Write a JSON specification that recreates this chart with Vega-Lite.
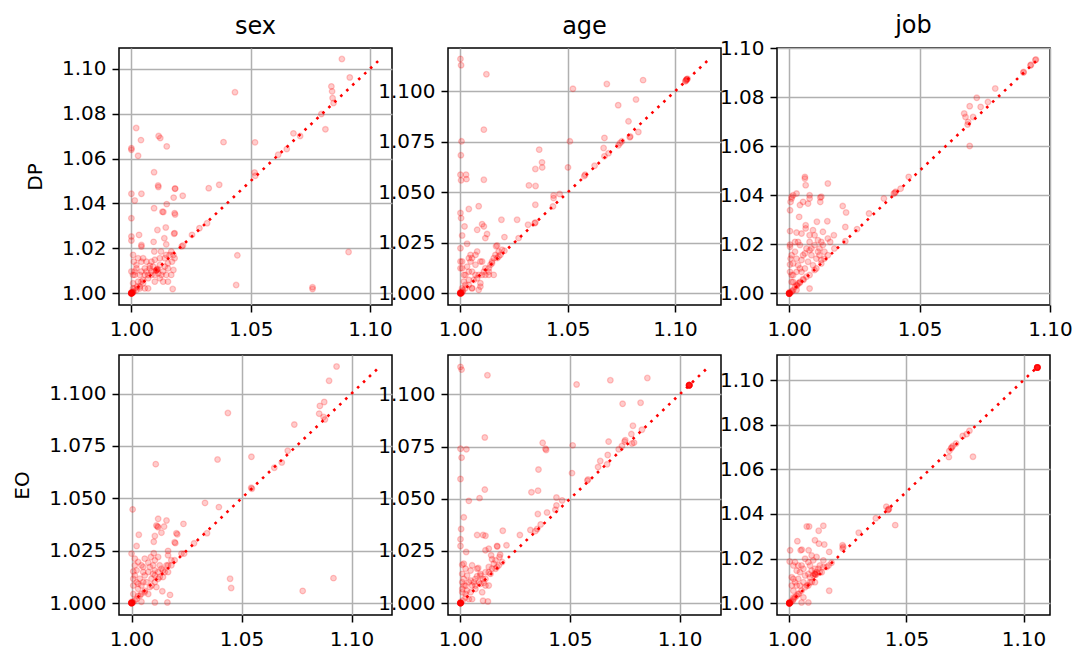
{
"$schema": "https://vega.github.io/schema/vega-lite/v6.json",
"padding": {"left": 11, "top": 13, "right": 5, "bottom": 5},
"background": "white",
"config": {
 "font": "DejaVu Sans",
 "view": {"stroke": "#000", "strokeWidth": 1.5},
 "axis": {"grid": true, "gridColor": "#b0b0b0", "gridWidth": 1.5, "domain": false, "ticks": true, "tickColor": "#000", "tickWidth": 1.5, "tickSize": 7, "labelFont": "DejaVu Sans", "labelFontSize": 20, "labelColor": "#000", "titleFont": "DejaVu Sans", "titleFontSize": 20, "titleFontWeight": "normal", "titleColor": "#000", "titlePadding": 16, "labelFlush": false, "labelOverlap": false, "zindex": 1},
 "axisX": {"labelPadding": 7},
 "axisY": {"labelPadding": 6},
 "title": {"fontSize": 24, "fontWeight": "normal", "font": "DejaVu Sans", "color": "#000", "baseline": "alphabetic", "offset": 9},
 "circle": {"color": "#ff0000", "fill": "#ff0000", "stroke": "#ff0000", "fillOpacity": 0.2, "strokeOpacity": 0.2, "strokeWidth": 1.3, "opacity": 1, "size": 32},
 "line": {"color": "#ff0000", "strokeDash": [2.6, 5.6], "strokeWidth": 2.6, "strokeCap": "butt"}
},
"datasets": {
 "p1": [
  {"x":1.0882,"y":1.1043},{"x":1.0915,"y":1.0961},{"x":1.0838,"y":1.0921},{"x":1.0841,"y":1.0899},{"x":1.0843,"y":1.0869},{"x":1.0847,"y":1.0847},{"x":1.0813,"y":1.0730},{"x":1.0796,"y":1.0798},{"x":1.0679,"y":1.0712},{"x":1.0707,"y":1.0700},{"x":1.0615,"y":1.0617},{"x":1.0651,"y":1.0642},{"x":1.0518,"y":1.0672},{"x":1.0516,"y":1.0538},{"x":1.0519,"y":1.0523},{"x":1.0434,"y":1.0895},{"x":1.0386,"y":1.0673},{"x":1.0368,"y":1.0483},{"x":1.0324,"y":1.0468},{"x":1.0317,"y":1.0312},{"x":1.0285,"y":1.0290},{"x":1.0254,"y":1.0260},{"x":1.0216,"y":1.0213},{"x":1.0211,"y":1.0209},{"x":1.0444,"y":1.0169},{"x":1.0439,"y":1.0037},{"x":1.0759,"y":1.0027},{"x":1.0759,"y":1.0019},{"x":1.0910,"y":1.0184},
  {"x":1.0020,"y":1.0736},{"x":1.0040,"y":1.0682},{"x":1.0,"y":1.0646},{"x":1.0,"y":1.0639},{"x":1.0028,"y":1.0612},{"x":1.0114,"y":1.0700},{"x":1.0121,"y":1.0691},{"x":1.0148,"y":1.0654},{"x":1.0095,"y":1.0539},{"x":1.0112,"y":1.0480},{"x":1.0113,"y":1.0473},{"x":1.0183,"y":1.0467},{"x":1.0183,"y":1.0465},{"x":1.0215,"y":1.0434},{"x":1.0177,"y":1.0426},{"x":1.0,"y":1.0443},{"x":1.0042,"y":1.0443},{"x":1.0014,"y":1.0413},{"x":1.0095,"y":1.0379},{"x":1.0148,"y":1.0397},{"x":1.0130,"y":1.0363},{"x":1.0134,"y":1.0362},{"x":1.0181,"y":1.0357},{"x":1.0183,"y":1.0351},{"x":1.0,"y":1.0334},{"x":1.0144,"y":1.0293},{"x":1.0109,"y":1.0282},{"x":1.0179,"y":1.0265},{"x":1.0181,"y":1.0268},{"x":1.0032,"y":1.0260},{"x":1.0,"y":1.0253},{"x":1.0,"y":1.0235},{"x":1.0093,"y":1.0229},{"x":1.0138,"y":1.0245},{"x":1.0146,"y":1.0218},{"x":1.0042,"y":1.0215},{"x":1.0042,"y":1.0208},{"x":1.0096,"y":1.0186},{"x":1.0124,"y":1.0186},{"x":1.0167,"y":1.0186},{"x":1.0176,"y":1.0171},{"x":1.0173,"y":1.0019},
  {"x":1.0010,"y":1.0141},{"x":1.0042,"y":1.0141},{"x":1.0056,"y":1.0111},{"x":1.0070,"y":1.0082},{"x":1.0014,"y":1.0082},{"x":1.0028,"y":1.0052},{"x":1.0049,"y":1.0059},{"x":1.0084,"y":1.0097},{"x":1.0126,"y":1.0082},{"x":1.0153,"y":1.0111},{"x":1.0167,"y":1.0082},{"x":1.0176,"y":1.0104},{"x":1.0014,"y":1.0022},{"x":1.0035,"y":1.0022},{"x":1.0070,"y":1.0022},
  {"x":1.0160,"y":1.0171},{"x":1.0140,"y":1.0156},{"x":1.0119,"y":1.0126},{"x":1.0105,"y":1.0104},{"x":1.0108,"y":1.0106},{"x":1.0102,"y":1.0101},{"x":1.0110,"y":1.0108},{"x":1.0106,"y":1.0102},{"x":1.0084,"y":1.0082},{"x":1.0070,"y":1.0067},{"x":1.0049,"y":1.0045},{"x":1.0035,"y":1.0030},{"x":1.0021,"y":1.0015},{"x":1.0007,"y":1.0007},
  {"x":1.0,"y":1.0},{"x":1.0,"y":1.0},{"x":1.0,"y":1.0},{"x":1.0,"y":1.0},{"x":1.0,"y":1.0},{"x":1.0,"y":1.0},{"x":1.0,"y":1.0},{"x":1.0,"y":1.0},{"x":1.0003,"y":1.0002},{"x":1.0005,"y":1.0004},{"x":1.0,"y":1.0005},{"x":1.0002,"y":1.0},{"x":1.0008,"y":1.0006},
  {"x":1.0007,"y":1.0171},{"x":1.0028,"y":1.0156},{"x":1.0049,"y":1.0156},{"x":1.0,"y":1.0097},{"x":1.0021,"y":1.0111},{"x":1.0042,"y":1.0097},{"x":1.0063,"y":1.0141},{"x":1.0077,"y":1.0123},{"x":1.0098,"y":1.0149},{"x":1.0133,"y":1.0052},{"x":1.0153,"y":1.0052},{"x":1.0146,"y":1.0082},
  {"x":1.0007,"y":1.0082},{"x":1.0014,"y":1.0097},{"x":1.0021,"y":1.0126},{"x":1.0035,"y":1.0082},{"x":1.0042,"y":1.0052},{"x":1.0056,"y":1.0082},{"x":1.0063,"y":1.0097},{"x":1.0077,"y":1.0111},{"x":1.0091,"y":1.0119},{"x":1.0098,"y":1.0082},{"x":1.0112,"y":1.0089},{"x":1.0133,"y":1.0097},{"x":1.0140,"y":1.0119},{"x":1.0153,"y":1.0134},{"x":1.0170,"y":1.0141},{"x":1.0181,"y":1.0156},{"x":1.0119,"y":1.0156},{"x":1.0084,"y":1.0141},{"x":1.0007,"y":1.0045},{"x":1.0025,"y":1.0030},{"x":1.0098,"y":1.0052},{"x":1.0119,"y":1.0067},{"x":1.0056,"y":1.0022},{"x":1.0007,"y":1.0022},{"x":1.0146,"y":1.0171}
 ],
 "p2": [
  {"x":1.0,"y":1.1160},{"x":1.0003,"y":1.1129},{"x":1.0121,"y":1.1084},{"x":1.0109,"y":1.0810},{"x":1.0005,"y":1.0752},{"x":1.0002,"y":1.0683},{"x":1.0,"y":1.0587},{"x":1.0003,"y":1.0559},{"x":1.0026,"y":1.0587},{"x":1.0028,"y":1.0565},{"x":1.0109,"y":1.0562},{"x":1.0367,"y":1.0711},{"x":1.0380,"y":1.0648},{"x":1.0381,"y":1.0623},{"x":1.0349,"y":1.0615},{"x":1.0319,"y":1.0534},{"x":1.0350,"y":1.0531},{"x":1.0501,"y":1.0623},{"x":1.0510,"y":1.0752},{"x":1.0524,"y":1.1012},{"x":1.0682,"y":1.1036},{"x":1.0735,"y":1.0931},{"x":1.0818,"y":1.0959},{"x":1.0851,"y":1.1055},{"x":1.0783,"y":1.0851},{"x":1.0829,"y":1.0798},{"x":1.0789,"y":1.0772},{"x":1.0791,"y":1.0776},{"x":1.0752,"y":1.0752},{"x":1.0744,"y":1.0744},{"x":1.0736,"y":1.0732},{"x":1.0671,"y":1.0769},{"x":1.0667,"y":1.0719},{"x":1.0690,"y":1.0693},{"x":1.0671,"y":1.0678},{"x":1.0625,"y":1.0631},{"x":1.0581,"y":1.0587},{"x":1.0577,"y":1.0580},{"x":1.0462,"y":1.0491},{"x":1.0434,"y":1.0484},{"x":1.0434,"y":1.0471},{"x":1.0431,"y":1.0430},{"x":1.0349,"y":1.0438},{"x":1.0349,"y":1.0350},{"x":1.0346,"y":1.0347},{"x":1.0315,"y":1.0339},{"x":1.0264,"y":1.0364},{"x":1.0191,"y":1.0364},{"x":1.0039,"y":1.0417},{"x":1.0085,"y":1.0431},{"x":1.0,"y":1.0397},{"x":1.0003,"y":1.0372},{"x":1.0019,"y":1.0331},{"x":1.0008,"y":1.0286},{"x":1.0078,"y":1.0314},{"x":1.0101,"y":1.0342},{"x":1.0109,"y":1.0331},{"x":1.0124,"y":1.0293},{"x":1.0116,"y":1.0273},{"x":1.0205,"y":1.0278},{"x":1.0171,"y":1.0236},{"x":1.0166,"y":1.0233},{"x":1.0031,"y":1.0245},{"x":1.0,"y":1.0223},{"x":1.0,"y":1.0124},{"x":1.0,"y":1.0157},{"x":1.0205,"y":1.0210},{"x":1.0271,"y":1.0273},
  {"x":1.0054,"y":1.0174},{"x":1.0047,"y":1.0190},{"x":1.0070,"y":1.0141},{"x":1.0093,"y":1.0157},{"x":1.0116,"y":1.0124},{"x":1.0132,"y":1.0091},{"x":1.0101,"y":1.0091},{"x":1.0147,"y":1.0157},{"x":1.0163,"y":1.0190},{"x":1.0155,"y":1.0174},{"x":1.0178,"y":1.0207},{"x":1.0093,"y":1.0050},{"x":1.0023,"y":1.0091},{"x":1.0016,"y":1.0058},{"x":1.0039,"y":1.0107},{"x":1.0008,"y":1.0124},{"x":1.0054,"y":1.0025},{"x":1.0085,"y":1.0017},{"x":1.0047,"y":1.0157},{"x":1.0078,"y":1.0207},
  {"x":1.0039,"y":1.0041},{"x":1.0062,"y":1.0066},{"x":1.0085,"y":1.0091},{"x":1.0109,"y":1.0107},{"x":1.0132,"y":1.0124},{"x":1.0147,"y":1.0149},{"x":1.0171,"y":1.0174},{"x":1.0186,"y":1.0190},{"x":1.0023,"y":1.0025},
  {"x":1.0,"y":1.0},{"x":1.0,"y":1.0},{"x":1.0,"y":1.0},{"x":1.0,"y":1.0},{"x":1.0,"y":1.0},{"x":1.0,"y":1.0},{"x":1.0,"y":1.0},{"x":1.0,"y":1.0},{"x":1.0003,"y":1.0002},{"x":1.0006,"y":1.0003},{"x":1.0,"y":1.0006},{"x":1.0004,"y":1.0},{"x":1.0010,"y":1.0008},{"x":1.0012,"y":1.0015},
  {"x":1.1050,"y":1.1052},{"x":1.1054,"y":1.1058},{"x":1.1058,"y":1.1062},{"x":1.1052,"y":1.1056},{"x":1.1056,"y":1.1060},{"x":1.1048,"y":1.1049},
  {"x":1.0016,"y":1.0091},{"x":1.0008,"y":1.0157},{"x":1.0031,"y":1.0132},{"x":1.0054,"y":1.0107},{"x":1.0070,"y":1.0091},{"x":1.0078,"y":1.0074},{"x":1.0039,"y":1.0066},{"x":1.0023,"y":1.0041},{"x":1.0116,"y":1.0091},{"x":1.0132,"y":1.0107},{"x":1.0140,"y":1.0141},{"x":1.0101,"y":1.0157},{"x":1.0070,"y":1.0190},{"x":1.0039,"y":1.0174},{"x":1.0054,"y":1.0025},{"x":1.0008,"y":1.0025},{"x":1.0093,"y":1.0033},{"x":1.0155,"y":1.0091},{"x":1.0178,"y":1.0182},{"x":1.0194,"y":1.0215}
 ],
 "p3": [
  {"x":1.0946,"y":1.0953},{"x":1.0944,"y":1.0951},{"x":1.0927,"y":1.0932},{"x":1.0925,"y":1.0929},{"x":1.0899,"y":1.0902},{"x":1.0898,"y":1.0900},{"x":1.0790,"y":1.0835},{"x":1.0719,"y":1.0797},{"x":1.0692,"y":1.0763},{"x":1.0671,"y":1.0733},{"x":1.0676,"y":1.0719},{"x":1.0705,"y":1.0719},{"x":1.0686,"y":1.0699},{"x":1.0684,"y":1.0688},{"x":1.0734,"y":1.0760},{"x":1.0762,"y":1.0780},{"x":1.0692,"y":1.0601},{"x":1.0458,"y":1.0475},{"x":1.0427,"y":1.0427},{"x":1.0408,"y":1.0414},{"x":1.0401,"y":1.0407},{"x":1.0405,"y":1.0410},{"x":1.0363,"y":1.0387},{"x":1.0306,"y":1.0326},{"x":1.0260,"y":1.0262},{"x":1.0205,"y":1.0356},{"x":1.0218,"y":1.0330},{"x":1.0215,"y":1.0271},{"x":1.0215,"y":1.0213},{"x":1.0171,"y":1.0237},{"x":1.0148,"y":1.0448},{"x":1.0146,"y":1.0294},{"x":1.0123,"y":1.0394},{"x":1.0119,"y":1.0391},{"x":1.0119,"y":1.0373},{"x":1.0106,"y":1.0292},{"x":1.0078,"y":1.0400},{"x":1.0078,"y":1.0387},{"x":1.0060,"y":1.0475},{"x":1.0060,"y":1.0468},{"x":1.0063,"y":1.0441},{"x":1.0072,"y":1.0366},{"x":1.0038,"y":1.0312},{"x":1.0009,"y":1.0394},{"x":1.0009,"y":1.0387},{"x":1.0005,"y":1.0373},{"x":1.0003,"y":1.0339},{"x":1.0028,"y":1.0407},{"x":1.0041,"y":1.0360},{"x":1.0028,"y":1.0248},{"x":1.0003,"y":1.0254},{"x":1.0003,"y":1.0199},{"x":1.0003,"y":1.0190},{"x":1.0015,"y":1.0400},{"x":1.0053,"y":1.0373},{"x":1.0022,"y":1.0210},
  {"x":1.0063,"y":1.0278},{"x":1.0063,"y":1.0265},{"x":1.0078,"y":1.0237},{"x":1.0078,"y":1.0210},{"x":1.0085,"y":1.0183},{"x":1.0097,"y":1.0237},{"x":1.0110,"y":1.0217},{"x":1.0123,"y":1.0210},{"x":1.0116,"y":1.0183},{"x":1.0104,"y":1.0142},{"x":1.0123,"y":1.0136},{"x":1.0116,"y":1.0156},{"x":1.0085,"y":1.0156},{"x":1.0060,"y":1.0163},{"x":1.0053,"y":1.0156},{"x":1.0028,"y":1.0142},{"x":1.0047,"y":1.0136},{"x":1.0015,"y":1.0122},{"x":1.0003,"y":1.0118},{"x":1.0003,"y":1.0088},{"x":1.0015,"y":1.0075},{"x":1.0041,"y":1.0102},{"x":1.0078,"y":1.0020},{"x":1.0009,"y":1.0156},{"x":1.0041,"y":1.0197},{"x":1.0129,"y":1.0251},{"x":1.0148,"y":1.0224},{"x":1.0157,"y":1.0210},
  {"x":1.0028,"y":1.0034},{"x":1.0066,"y":1.0068},{"x":1.0053,"y":1.0058},{"x":1.0041,"y":1.0047},{"x":1.0015,"y":1.0014},{"x":1.0078,"y":1.0075},{"x":1.0097,"y":1.0095},{"x":1.0123,"y":1.0122},{"x":1.0135,"y":1.0142},{"x":1.0148,"y":1.0156},{"x":1.0173,"y":1.0183},{"x":1.0034,"y":1.0041},{"x":1.0022,"y":1.0027},{"x":1.0040,"y":1.0043},{"x":1.0055,"y":1.0056},{"x":1.0030,"y":1.0032},
  {"x":1.0,"y":1.0},{"x":1.0,"y":1.0},{"x":1.0,"y":1.0},{"x":1.0,"y":1.0},{"x":1.0,"y":1.0},{"x":1.0,"y":1.0},{"x":1.0,"y":1.0},{"x":1.0,"y":1.0},{"x":1.0004,"y":1.0003},{"x":1.0008,"y":1.0007},{"x":1.0,"y":1.0005},{"x":1.0012,"y":1.0010},
  {"x":1.0009,"y":1.0075},{"x":1.0015,"y":1.0047},{"x":1.0028,"y":1.0088},{"x":1.0034,"y":1.0115},{"x":1.0047,"y":1.0088},{"x":1.0060,"y":1.0102},{"x":1.0072,"y":1.0129},{"x":1.0091,"y":1.0115},{"x":1.0066,"y":1.0183},{"x":1.0078,"y":1.0176},{"x":1.0097,"y":1.0197},{"x":1.0110,"y":1.0170},{"x":1.0129,"y":1.0197},{"x":1.0135,"y":1.0170},{"x":1.0104,"y":1.0102},{"x":1.0034,"y":1.0210},{"x":1.0047,"y":1.0244},{"x":1.0091,"y":1.0258},{"x":1.0005,"y":1.0142},{"x":1.0022,"y":1.0170},{"x":1.0009,"y":1.0047},{"x":1.0028,"y":1.0014}
 ],
 "p4": [
  {"x":1.0932,"y":1.1129},{"x":1.0898,"y":1.1061},{"x":1.0876,"y":1.0960},{"x":1.0856,"y":1.0941},{"x":1.0853,"y":1.0904},{"x":1.0873,"y":1.0888},{"x":1.0879,"y":1.0876},{"x":1.0740,"y":1.0852},{"x":1.0710,"y":1.0727},{"x":1.0683,"y":1.0671},{"x":1.0649,"y":1.0646},{"x":1.0545,"y":1.0698},{"x":1.0544,"y":1.0550},{"x":1.0547,"y":1.0546},{"x":1.0391,"y":1.0685},{"x":1.0438,"y":1.0907},{"x":1.0397,"y":1.0458},{"x":1.0334,"y":1.0478},{"x":1.0343,"y":1.0333},{"x":1.0284,"y":1.0285},{"x":1.0110,"y":1.0663},{"x":1.0005,"y":1.0447},{"x":1.0121,"y":1.0402},{"x":1.0159,"y":1.0394},{"x":1.0113,"y":1.0370},{"x":1.0121,"y":1.0362},{"x":1.0118,"y":1.0366},{"x":1.0136,"y":1.0336},{"x":1.0148,"y":1.0365},{"x":1.0236,"y":1.0378},{"x":1.0204,"y":1.0333},{"x":1.0208,"y":1.0328},{"x":1.0033,"y":1.0326},{"x":1.0023,"y":1.0272},{"x":1.0106,"y":1.0320},{"x":1.0101,"y":1.0293},{"x":1.0196,"y":1.0290},{"x":1.0199,"y":1.0286},{"x":1.0239,"y":1.0236},{"x":1.0227,"y":1.0236},{"x":1.0,"y":1.0236},{"x":1.0101,"y":1.0238},{"x":1.0088,"y":1.0220},{"x":1.0121,"y":1.0220},{"x":1.0166,"y":1.0249},{"x":1.0166,"y":1.0228},{"x":1.0448,"y":1.0116},{"x":1.0453,"y":1.0072},{"x":1.0778,"y":1.0058},{"x":1.0918,"y":1.0119},{"x":1.0140,"y":1.0056},{"x":1.0175,"y":1.0039},{"x":1.0106,"y":1.0003},{"x":1.0163,"y":1.0003},{"x":1.0045,"y":1.0006},
  {"x":1.0030,"y":1.0196},{"x":1.0076,"y":1.0193},{"x":1.0015,"y":1.0180},{"x":1.0008,"y":1.0151},{"x":1.0008,"y":1.0084},{"x":1.0023,"y":1.0100},{"x":1.0038,"y":1.0116},{"x":1.0053,"y":1.0100},{"x":1.0076,"y":1.0148},{"x":1.0106,"y":1.0156},{"x":1.0030,"y":1.0068},{"x":1.0060,"y":1.0051},{"x":1.0091,"y":1.0084},{"x":1.0121,"y":1.0116},{"x":1.0143,"y":1.0124},{"x":1.0166,"y":1.0148},{"x":1.0098,"y":1.0140},{"x":1.0053,"y":1.0148},{"x":1.0023,"y":1.0156},{"x":1.0136,"y":1.0164},{"x":1.0098,"y":1.0180},{"x":1.0159,"y":1.0180},{"x":1.0053,"y":1.0172},
  {"x":1.0181,"y":1.0180},{"x":1.0151,"y":1.0148},{"x":1.0128,"y":1.0124},{"x":1.0106,"y":1.0100},{"x":1.0083,"y":1.0076},{"x":1.0060,"y":1.0059},{"x":1.0038,"y":1.0035},{"x":1.0023,"y":1.0019},{"x":1.0196,"y":1.0204},{"x":1.0045,"y":1.0044},{"x":1.0015,"y":1.0012},
  {"x":1.0,"y":1.0},{"x":1.0,"y":1.0},{"x":1.0,"y":1.0},{"x":1.0,"y":1.0},{"x":1.0,"y":1.0},{"x":1.0,"y":1.0},{"x":1.0,"y":1.0},{"x":1.0,"y":1.0},{"x":1.0003,"y":1.0002},{"x":1.0006,"y":1.0004},{"x":1.0,"y":1.0006},{"x":1.0004,"y":1.0},
  {"x":1.0008,"y":1.0116},{"x":1.0015,"y":1.0132},{"x":1.0030,"y":1.0092},{"x":1.0045,"y":1.0084},{"x":1.0068,"y":1.0100},{"x":1.0060,"y":1.0132},{"x":1.0091,"y":1.0116},{"x":1.0106,"y":1.0132},{"x":1.0121,"y":1.0148},{"x":1.0143,"y":1.0156},{"x":1.0128,"y":1.0180},{"x":1.0083,"y":1.0172},{"x":1.0045,"y":1.0180},{"x":1.0015,"y":1.0212},{"x":1.0060,"y":1.0212},{"x":1.0106,"y":1.0204},{"x":1.0008,"y":1.0043},{"x":1.0030,"y":1.0035},{"x":1.0076,"y":1.0043},{"x":1.0113,"y":1.0076},{"x":1.0166,"y":1.0180},{"x":1.0181,"y":1.0204}
 ],
 "p5": [
  {"x":1.0,"y":1.1132},{"x":1.0005,"y":1.1119},{"x":1.0123,"y":1.1092},{"x":1.0530,"y":1.1048},{"x":1.0684,"y":1.1068},{"x":1.0853,"y":1.1079},{"x":1.0740,"y":1.0955},{"x":1.0822,"y":1.0960},{"x":1.0787,"y":1.0850},{"x":1.0828,"y":1.0831},{"x":1.0780,"y":1.0810},{"x":1.0752,"y":1.0781},{"x":1.0749,"y":1.0774},{"x":1.0737,"y":1.0753},{"x":1.0792,"y":1.0769},{"x":1.0783,"y":1.0765},{"x":1.0676,"y":1.0774},{"x":1.0722,"y":1.0737},{"x":1.0672,"y":1.0710},{"x":1.0669,"y":1.0665},{"x":1.0628,"y":1.0652},{"x":1.0638,"y":1.0681},{"x":1.0582,"y":1.0592},{"x":1.0579,"y":1.0587},{"x":1.0512,"y":1.0756},{"x":1.0509,"y":1.0623},{"x":1.0375,"y":1.0768},{"x":1.0388,"y":1.0740},{"x":1.0391,"y":1.0734},{"x":1.0356,"y":1.0640},{"x":1.0354,"y":1.0539},{"x":1.0324,"y":1.0531},{"x":1.0438,"y":1.0506},{"x":1.0464,"y":1.0492},{"x":1.0438,"y":1.0468},{"x":1.0433,"y":1.0447},{"x":1.0395,"y":1.0434},{"x":1.0353,"y":1.0427},{"x":1.0350,"y":1.0355},{"x":1.0342,"y":1.0345},{"x":1.0366,"y":1.0377},{"x":1.0319,"y":1.0350},{"x":1.0271,"y":1.0326},{"x":1.0193,"y":1.0347},{"x":1.0210,"y":1.0277},{"x":1.0111,"y":1.0794},{"x":1.0,"y":1.0740},{"x":1.0027,"y":1.0737},{"x":1.0005,"y":1.0697},{"x":1.0,"y":1.0595},{"x":1.0111,"y":1.0544},{"x":1.0087,"y":1.0503},{"x":1.0038,"y":1.0490},{"x":1.0015,"y":1.0411},{"x":1.0003,"y":1.0355},{"x":1.0,"y":1.0306},{"x":1.0,"y":1.0274},{"x":1.0026,"y":1.0245},{"x":1.0076,"y":1.0326},{"x":1.0103,"y":1.0326},{"x":1.0114,"y":1.0323},{"x":1.0114,"y":1.0253},{"x":1.0129,"y":1.0261},{"x":1.0167,"y":1.0274},{"x":1.0168,"y":1.0271},{"x":1.0140,"y":1.0229},{"x":1.0144,"y":1.0210},{"x":1.0181,"y":1.0232},{"x":1.0008,"y":1.0184},{"x":1.0015,"y":1.0189},{"x":1.0103,"y":1.0011},{"x":1.0125,"y":1.0008},
  {"x":1.0046,"y":1.0156},{"x":1.0081,"y":1.0168},{"x":1.0038,"y":1.0100},{"x":1.0046,"y":1.0108},{"x":1.0102,"y":1.0116},{"x":1.0106,"y":1.0097},{"x":1.0114,"y":1.0084},{"x":1.0076,"y":1.0129},{"x":1.0091,"y":1.0140},{"x":1.0015,"y":1.0084},{"x":1.0008,"y":1.0068},{"x":1.0023,"y":1.0044},{"x":1.0053,"y":1.0019},{"x":1.0068,"y":1.0084},{"x":1.0129,"y":1.0148},{"x":1.0144,"y":1.0165},{"x":1.0030,"y":1.0132},{"x":1.0008,"y":1.0140},
  {"x":1.0023,"y":1.0027},{"x":1.0046,"y":1.0052},{"x":1.0068,"y":1.0068},{"x":1.0091,"y":1.0092},{"x":1.0114,"y":1.0116},{"x":1.0137,"y":1.0140},{"x":1.0160,"y":1.0165},{"x":1.0175,"y":1.0181},{"x":1.0190,"y":1.0197},{"x":1.0167,"y":1.0173},{"x":1.0010,"y":1.0012},
  {"x":1.0,"y":1.0},{"x":1.0,"y":1.0},{"x":1.0,"y":1.0},{"x":1.0,"y":1.0},{"x":1.0,"y":1.0},{"x":1.0,"y":1.0},{"x":1.0,"y":1.0},{"x":1.0,"y":1.0},{"x":1.0,"y":1.0},{"x":1.0,"y":1.0},{"x":1.0003,"y":1.0002},{"x":1.0,"y":1.0005},
  {"x":1.1044,"y":1.1044},{"x":1.1044,"y":1.1044},{"x":1.1044,"y":1.1044},{"x":1.1044,"y":1.1044},{"x":1.1044,"y":1.1044},{"x":1.1044,"y":1.1044},{"x":1.1044,"y":1.1044},{"x":1.1044,"y":1.1044},{"x":1.1044,"y":1.1044},{"x":1.1044,"y":1.1044},
  {"x":1.0008,"y":1.0100},{"x":1.0015,"y":1.0116},{"x":1.0023,"y":1.0084},{"x":1.0053,"y":1.0084},{"x":1.0061,"y":1.0100},{"x":1.0084,"y":1.0100},{"x":1.0068,"y":1.0116},{"x":1.0091,"y":1.0132},{"x":1.0114,"y":1.0148},{"x":1.0129,"y":1.0173},{"x":1.0152,"y":1.0189},{"x":1.0160,"y":1.0205},{"x":1.0076,"y":1.0165},{"x":1.0053,"y":1.0181},{"x":1.0023,"y":1.0165},{"x":1.0008,"y":1.0052},{"x":1.0030,"y":1.0060},{"x":1.0038,"y":1.0019},{"x":1.0099,"y":1.0052},{"x":1.0129,"y":1.0084},{"x":1.0178,"y":1.0221}
 ],
 "p6": [
  {"x":1.1059,"y":1.1057},{"x":1.1059,"y":1.1057},{"x":1.1059,"y":1.1057},{"x":1.1059,"y":1.1057},{"x":1.1059,"y":1.1057},{"x":1.1059,"y":1.1057},{"x":1.1059,"y":1.1057},{"x":1.1059,"y":1.1057},{"x":1.1059,"y":1.1057},{"x":1.1059,"y":1.1057},
  {"x":1.0784,"y":1.0657},{"x":1.0769,"y":1.0773},{"x":1.0757,"y":1.0758},{"x":1.0740,"y":1.0750},{"x":1.0691,"y":1.0695},{"x":1.0693,"y":1.0698},{"x":1.0683,"y":1.0683},{"x":1.0681,"y":1.0655},{"x":1.0698,"y":1.0705},{"x":1.0712,"y":1.0716},{"x":1.0421,"y":1.0418},{"x":1.0423,"y":1.0420},{"x":1.0425,"y":1.0422},{"x":1.0414,"y":1.0433},{"x":1.0452,"y":1.0350},{"x":1.0369,"y":1.0381},{"x":1.0296,"y":1.0316},{"x":1.0227,"y":1.0260},{"x":1.0230,"y":1.0252},{"x":1.0227,"y":1.0245},{"x":1.0145,"y":1.0347},{"x":1.0084,"y":1.0344},{"x":1.0074,"y":1.0344},{"x":1.0125,"y":1.0325},{"x":1.0109,"y":1.0282},{"x":1.0126,"y":1.0267},{"x":1.0149,"y":1.0263},{"x":1.0034,"y":1.0278},{"x":1.0048,"y":1.0237},{"x":1.0053,"y":1.0240},{"x":1.0082,"y":1.0237},{"x":1.0003,"y":1.0237},{"x":1.0001,"y":1.0187},{"x":1.0170,"y":1.0230},{"x":1.0170,"y":1.0056},
  {"x":1.0167,"y":1.0169},{"x":1.0116,"y":1.0139},{"x":1.0102,"y":1.0124},{"x":1.0109,"y":1.0154},{"x":1.0088,"y":1.0169},{"x":1.0067,"y":1.0199},{"x":1.0060,"y":1.0154},{"x":1.0038,"y":1.0169},{"x":1.0017,"y":1.0109},{"x":1.0010,"y":1.0116},{"x":1.0031,"y":1.0079},{"x":1.0074,"y":1.0079},{"x":1.0088,"y":1.0094},{"x":1.0130,"y":1.0139},{"x":1.0081,"y":1.0003},{"x":1.0052,"y":1.0003},{"x":1.0109,"y":1.0131},{"x":1.0113,"y":1.0127},{"x":1.0111,"y":1.0129},{"x":1.0107,"y":1.0133},{"x":1.0145,"y":1.0192},{"x":1.0045,"y":1.0139},{"x":1.0024,"y":1.0184},{"x":1.0095,"y":1.0214},
  {"x":1.0017,"y":1.0018},{"x":1.0031,"y":1.0033},{"x":1.0052,"y":1.0056},{"x":1.0067,"y":1.0071},{"x":1.0081,"y":1.0079},{"x":1.0095,"y":1.0094},{"x":1.0138,"y":1.0139},{"x":1.0159,"y":1.0162},{"x":1.0180,"y":1.0181},{"x":1.0014,"y":1.0011},{"x":1.0024,"y":1.0026},{"x":1.0040,"y":1.0042},
  {"x":1.0,"y":1.0},{"x":1.0,"y":1.0},{"x":1.0,"y":1.0},{"x":1.0,"y":1.0},{"x":1.0,"y":1.0},{"x":1.0,"y":1.0},{"x":1.0,"y":1.0},{"x":1.0,"y":1.0},{"x":1.0,"y":1.0},{"x":1.0,"y":1.0},{"x":1.0004,"y":1.0003},{"x":1.0,"y":1.0005},{"x":1.0007,"y":1.0006},
  {"x":1.0010,"y":1.0079},{"x":1.0017,"y":1.0056},{"x":1.0024,"y":1.0094},{"x":1.0038,"y":1.0109},{"x":1.0045,"y":1.0079},{"x":1.0060,"y":1.0094},{"x":1.0067,"y":1.0124},{"x":1.0081,"y":1.0131},{"x":1.0088,"y":1.0116},{"x":1.0095,"y":1.0146},{"x":1.0123,"y":1.0154},{"x":1.0130,"y":1.0169},{"x":1.0145,"y":1.0162},{"x":1.0052,"y":1.0169},{"x":1.0031,"y":1.0146},{"x":1.0017,"y":1.0169},{"x":1.0081,"y":1.0184},{"x":1.0102,"y":1.0192},{"x":1.0116,"y":1.0207},{"x":1.0017,"y":1.0026},{"x":1.0038,"y":1.0041},{"x":1.0060,"y":1.0026},{"x":1.0109,"y":1.0094}
 ]
},
"columns": 3,
"spacing": {"row": 50, "column": 56},
"bounds": "flush",
"align": "each",
"concat": [
 {"width": 273, "height": 257, "title": "sex",
  "encoding": {
   "x": {"field": "x", "type": "quantitative", "scale": {"domain": [0.9948, 1.1092], "nice": false, "zero": false}, "axis": {"values": [1.0, 1.05, 1.1], "format": ".2f", "title": null}},
   "y": {"field": "y", "type": "quantitative", "scale": {"domain": [0.9948, 1.1092], "nice": false, "zero": false}, "axis": {"values": [1.0, 1.02, 1.04, 1.06, 1.08, 1.1], "format": ".2f", "title": "DP"}}},
  "layer": [
   {"data": {"name": "p1"}, "mark": {"type": "circle"}},
   {"data": {"values": [{"x": 1.0, "y": 1.0}, {"x": 1.104, "y": 1.104}]}, "mark": {"type": "line"}}
  ]},
 {"width": 273, "height": 257, "title": "age",
  "encoding": {
   "x": {"field": "x", "type": "quantitative", "scale": {"domain": [0.9942, 1.1214], "nice": false, "zero": false}, "axis": {"values": [1.0, 1.05, 1.1], "format": ".2f", "title": null}},
   "y": {"field": "y", "type": "quantitative", "scale": {"domain": [0.9942, 1.1214], "nice": false, "zero": false}, "axis": {"values": [1.0, 1.025, 1.05, 1.075, 1.1], "format": ".3f", "title": null}}},
  "layer": [
   {"data": {"name": "p2"}, "mark": {"type": "circle"}},
   {"data": {"values": [{"x": 1.0, "y": 1.0}, {"x": 1.1156, "y": 1.1156}]}, "mark": {"type": "line"}}
  ]},
 {"width": 273, "height": 257, "title": {"text": "job", "offset": 0},
  "encoding": {
   "x": {"field": "x", "type": "quantitative", "scale": {"domain": [0.9953, 1.1], "nice": false, "zero": false}, "axis": {"values": [1.0, 1.05, 1.1], "format": ".2f", "title": null}},
   "y": {"field": "y", "type": "quantitative", "scale": {"domain": [0.9953, 1.1], "nice": false, "zero": false}, "axis": {"values": [1.0, 1.02, 1.04, 1.06, 1.08, 1.1], "format": ".2f", "title": null}}},
  "layer": [
   {"data": {"name": "p3"}, "mark": {"type": "circle"}},
   {"data": {"values": [{"x": 1.0, "y": 1.0}, {"x": 1.095, "y": 1.095}]}, "mark": {"type": "line"}}
  ]},
 {"width": 273, "height": 260,
  "encoding": {
   "x": {"field": "x", "type": "quantitative", "scale": {"domain": [0.9943, 1.1184], "nice": false, "zero": false}, "axis": {"values": [1.0, 1.05, 1.1], "format": ".2f", "title": null}},
   "y": {"field": "y", "type": "quantitative", "scale": {"domain": [0.9943, 1.1184], "nice": false, "zero": false}, "axis": {"values": [1.0, 1.025, 1.05, 1.075, 1.1], "format": ".3f", "title": "EO"}}},
  "layer": [
   {"data": {"name": "p4"}, "mark": {"type": "circle"}},
   {"data": {"values": [{"x": 1.0, "y": 1.0}, {"x": 1.1125, "y": 1.1125}]}, "mark": {"type": "line"}}
  ]},
 {"width": 273, "height": 260,
  "encoding": {
   "x": {"field": "x", "type": "quantitative", "scale": {"domain": [0.9943, 1.1189], "nice": false, "zero": false}, "axis": {"values": [1.0, 1.05, 1.1], "format": ".2f", "title": null}},
   "y": {"field": "y", "type": "quantitative", "scale": {"domain": [0.9943, 1.1189], "nice": false, "zero": false}, "axis": {"values": [1.0, 1.025, 1.05, 1.075, 1.1], "format": ".3f", "title": null}}},
  "layer": [
   {"data": {"name": "p5"}, "mark": {"type": "circle"}},
   {"data": {"values": [{"x": 1.0, "y": 1.0}, {"x": 1.1132, "y": 1.1132}]}, "mark": {"type": "line"}}
  ]},
 {"width": 273, "height": 260,
  "encoding": {
   "x": {"field": "x", "type": "quantitative", "scale": {"domain": [0.9947, 1.1113], "nice": false, "zero": false}, "axis": {"values": [1.0, 1.05, 1.1], "format": ".2f", "title": null}},
   "y": {"field": "y", "type": "quantitative", "scale": {"domain": [0.9947, 1.1113], "nice": false, "zero": false}, "axis": {"values": [1.0, 1.02, 1.04, 1.06, 1.08, 1.1], "format": ".2f", "title": null}}},
  "layer": [
   {"data": {"name": "p6"}, "mark": {"type": "circle"}},
   {"data": {"values": [{"x": 1.0, "y": 1.0}, {"x": 1.106, "y": 1.106}]}, "mark": {"type": "line"}}
  ]}
]
}
